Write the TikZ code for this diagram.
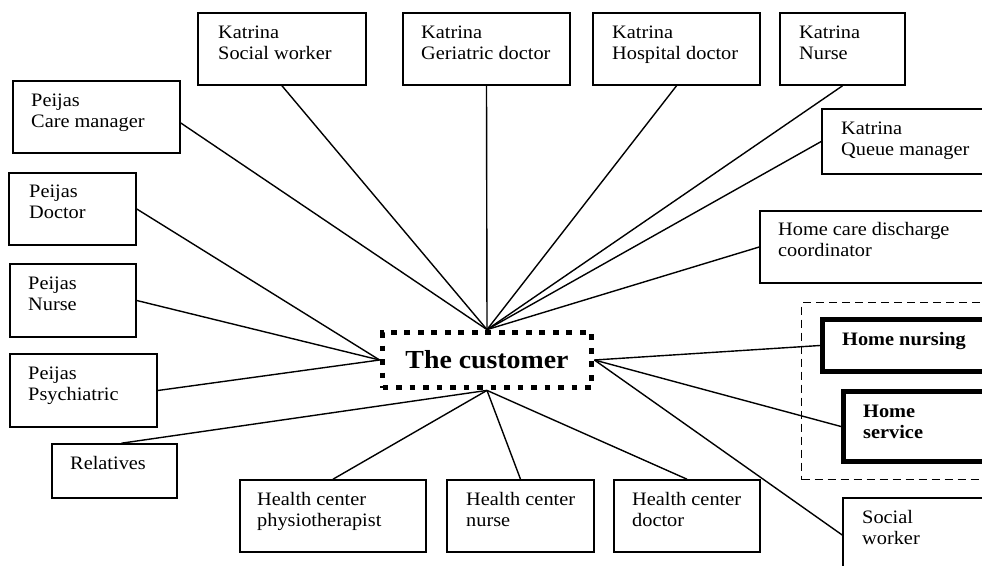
\documentclass[tikz,border=0pt]{standalone}
\usepackage{fontspec}
\setmainfont{Liberation Serif}[FakeStretch=1.07]
\usetikzlibrary{fit}
% fixed height for the first line of every label
\newcommand{\lnstrut}{\rule{0pt}{14pt}}
\begin{document}
\begin{tikzpicture}[x=1pt,y=-1pt,
  frame/.style={draw, line width=1.6pt, inner sep=0pt},
  heavy/.style={draw, line width=5pt, inner sep=0pt},
  group/.style={draw, line width=1.2pt, dash pattern=on 8pt off 5pt, inner sep=0pt},
  hubbox/.style={draw, line width=5.8pt, dash pattern=on 5.8pt off 7.7pt, inner sep=0pt,
                 font=\fontsize{26}{30}\selectfont\bfseries},
  txt/.style={anchor=north west, inner sep=0pt, align=left, font=\fontsize{19}{21}\selectfont},
  btxt/.style={txt, font=\fontsize{19}{21}\selectfont\bfseries},
  conn/.style={line width=1.4pt}]
\useasboundingbox (0,0) rectangle (982,565);
\clip (0,0) rectangle (982,565);
\fill[white] (0,0) rectangle (982,565);

% central actor
\node[hubbox, minimum width=209pt, minimum height=55pt] (hub) at (487,360) {The customer};

% top row
\node[frame, fit={(198,13) (366,85)}] (ksw) {};
\node[frame, fit={(403,13) (570,85)}] (kgd) {};
\node[frame, fit={(593,13) (760,85)}] (khd) {};
\node[frame, fit={(780,13) (905,85)}] (kn) {};
\node[frame, fit={(822,109) (1010,174)}] (kqm) {};
\node[frame, fit={(760,211) (1010,283)}] (hcd) {};

% home care group
\node[group, fit={(801.5,302.5) (1010,479.5)}] (grp) {};
\node[heavy, fit={(822.5,319.5) (1010,371.5)}] (hn) {};
\node[heavy, fit={(843.5,391.5) (1010,461.5)}] (hs) {};
\node[frame, fit={(843,498) (1010,572)}] (sw) {};

% left column
\node[frame, fit={(13,81) (180,153)}] (pcm) {};
\node[frame, fit={(9,173) (136,245)}] (pd) {};
\node[frame, fit={(10,264) (136,337)}] (pn) {};
\node[frame, fit={(10,354) (157,427)}] (pp) {};
\node[frame, fit={(52,444) (177,498)}] (rel) {};

% bottom row
\node[frame, fit={(240,480) (426,552)}] (hcp) {};
\node[frame, fit={(447,480) (594,552)}] (hcn) {};
\node[frame, fit={(614,480) (760,552)}] (hcdoc) {};

% labels
\node[txt] (ksw-t) at (218,24) {\lnstrut Katrina\\Social worker};
\node[txt] (kgd-t) at (421,24) {\lnstrut Katrina\\Geriatric doctor};
\node[txt] (khd-t) at (612,24) {\lnstrut Katrina\\Hospital doctor};
\node[txt] (kn-t) at (799,24) {\lnstrut Katrina\\Nurse};
\node[txt] (kqm-t) at (841,120) {\lnstrut Katrina\\Queue manager};
\node[txt] (hcd-t) at (778,221) {\lnstrut Home care discharge\\coordinator};
\node[btxt] (hn-t) at (842,331) {\lnstrut Home nursing};
\node[btxt] (hs-t) at (863,403) {\lnstrut Home\\service};
\node[txt] (sw-t) at (862,509) {\lnstrut Social\\worker};
\node[txt] (pcm-t) at (31,92) {\lnstrut Peijas\\Care manager};
\node[txt] (pd-t) at (29,183) {\lnstrut Peijas\\Doctor};
\node[txt] (pn-t) at (28,275) {\lnstrut Peijas\\Nurse};
\node[txt] (pp-t) at (28,365) {\lnstrut Peijas\\Psychiatric};
\node[txt] (rel-t) at (70,455) {\lnstrut Relatives};
\node[txt] (hcp-t) at (257,491) {\lnstrut Health center\\physiotherapist};
\node[txt] (hcn-t) at (466,491) {\lnstrut Health center\\nurse};
\node[txt] (hcdoc-t) at (632,491) {\lnstrut Health center\\doctor};

% connectors
\draw[conn] (ksw.south) -- (hub.north);
\draw[conn] (kgd.south) -- (hub.north);
\draw[conn] (khd.south) -- (hub.north);
\draw[conn] (kn.south) -- (hub.north);
\draw[conn] (kqm.west) -- (hub.north);
\draw[conn] (hcd.west) -- (hub.north);
\draw[conn] ([yshift=-6pt]pcm.east) -- (hub.north);
\draw[conn] (pd.east) -- (hub.west);
\draw[conn] (pn.east) -- (hub.west);
\draw[conn] (pp.east) -- (hub.west);
\draw[conn] ([xshift=7pt]rel.north) -- (hub.south);
\draw[conn] (hcp.north) -- (hub.south);
\draw[conn] (hcn.north) -- (hub.south);
\draw[conn] (hcdoc.north) -- (hub.south);
\draw[conn] (hub.east) -- (hn.west);
\draw[conn] (hub.east) -- (hs.west);
\draw[conn] (hub.east) -- (sw.west);
\end{tikzpicture}
\end{document}
